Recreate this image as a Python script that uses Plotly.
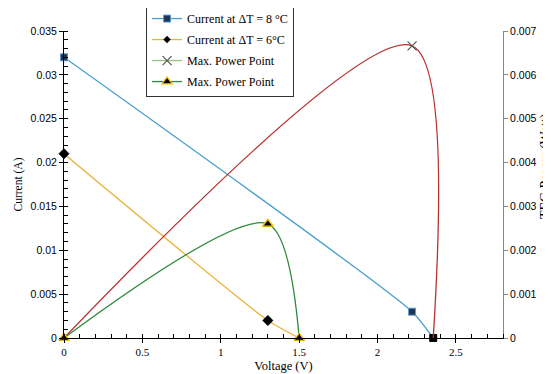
import plotly.graph_objects as go

# Data
v_8 = [0, 2.22, 2.355]          # Voltage (V), ΔT = 8 °C
i_8 = [0.032, 0.003, 0]         # Current (A), ΔT = 8 °C
p_8 = [0, 0.00666, 0]           # TEG Power (W), ΔT = 8 °C
v_6 = [0, 1.30, 1.50]           # Voltage (V), ΔT = 6 °C
i_6 = [0.021, 0.002, 0]         # Current (A), ΔT = 6 °C
p_6 = [0, 0.0026, 0]            # TEG Power (W), ΔT = 6 °C

x_ticks = [0, 0.5, 1, 1.5, 2, 2.5]

FONT = "Liberation Serif, Times New Roman, serif"
SANS = "Liberation Sans, Arial, sans-serif"
BLUE = "#4a9fd0"
ORANGE = "#e8b540"
RED = "#b8312f"
GREEN = "#2f8a3a"
SM_I = 0.55   # smoothing of current curves
SM_P = 0.85   # smoothing of power curves

fig = go.Figure()

# Power curve ΔT = 8 °C (red, no legend entry)
fig.add_trace(go.Scatter(
    x=v_8, y=p_8, yaxis="y2", mode="lines",
    line=dict(color=RED, width=1.3, shape="spline", smoothing=SM_P),
    showlegend=False, hoverinfo="skip"))

# Power curve ΔT = 6 °C (green, triangle markers)
fig.add_trace(go.Scatter(
    x=v_6, y=p_6, yaxis="y2", mode="lines+markers",
    name="Max. Power Point", legendrank=4, legendgroup="d",
    line=dict(color=GREEN, width=1.3, shape="spline", smoothing=SM_P),
    marker=dict(symbol="triangle-up", size=9, color="black",
                line=dict(color="#f2c000", width=1.2)),
    cliponaxis=False))

# Current ΔT = 8 °C
fig.add_trace(go.Scatter(
    x=v_8, y=i_8, mode="lines+markers",
    name="Current at ΔT = 8 °C", legendrank=1, legendgroup="a",
    line=dict(color=BLUE, width=1.3, shape="spline", smoothing=SM_I),
    marker=dict(symbol="square", size=7,
                color=["#1f3550", "#1f3550", "black"],
                line=dict(color=["#5b9bd5", "#5b9bd5", "black"], width=1)),
    cliponaxis=False))

# Current ΔT = 6 °C
fig.add_trace(go.Scatter(
    x=v_6, y=i_6, mode="lines+markers",
    name="Current at ΔT = 6°C", legendrank=2, legendgroup="b",
    line=dict(color=ORANGE, width=1.3, shape="spline", smoothing=SM_I),
    marker=dict(symbol="diamond", size=[8, 8, 0], color="black",
                opacity=1, line=dict(color="black", width=0.5)),
    cliponaxis=False))

# Max power point ΔT = 8 °C (×)
fig.add_trace(go.Scatter(
    x=[v_8[1]], y=[p_8[1]], yaxis="y2", mode="lines+markers",
    name="Max. Power Point", legendrank=3, legendgroup="c",
    line=dict(color="#9bc27e", width=1.3),
    marker=dict(symbol="x-thin", size=9, color="#555555",
                line=dict(color="#555555", width=1.2)),
    cliponaxis=False))

# Re-draw triangles on top
fig.add_trace(go.Scatter(
    x=v_6, y=p_6, yaxis="y2", mode="markers", showlegend=False,
    marker=dict(symbol="triangle-up", size=9, color="black",
                line=dict(color="#f2c000", width=1.2)),
    cliponaxis=False, hoverinfo="skip"))

x_font = dict(family=FONT, size=11, color="black")
y_font = dict(family=SANS, size=10.5, color="black")

fig.update_layout(
    width=543, height=366,
    margin=dict(l=56, r=48, t=23, b=36, autoexpand=False),
    paper_bgcolor="white", plot_bgcolor="white",
    font=dict(family=FONT, size=11, color="black"),
    xaxis=dict(
        range=[0, 2.8], tickvals=x_ticks, ticktext=[str(t) for t in x_ticks],
        showgrid=False, zeroline=False, showline=True, linecolor="black",
        linewidth=1, ticks="outside", ticklen=4, tickcolor="black",
        minor=dict(dtick=0.1, ticks="inside", ticklen=4, tickcolor="black"),
        tickfont=x_font,
        title=dict(text="Voltage (V)",
                   font=dict(family=FONT, size=12.5, color="black"),
                   standoff=4)),
    yaxis=dict(
        range=[0, 0.035], dtick=0.005, showgrid=False, zeroline=False,
        showline=True, linecolor="black", linewidth=1,
        ticks="outside", ticklen=4, tickcolor="black",
        minor=dict(dtick=0.001, ticks="inside", ticklen=4, tickcolor="black"),
        tickfont=y_font,
        title=dict(text="Current (A)",
                   font=dict(family=FONT, size=11.5, color="black"),
                   standoff=5)),
    yaxis2=dict(
        range=[0, 0.007], dtick=0.001, overlaying="y", side="right",
        showgrid=False, zeroline=False, showline=True, linecolor="#888888",
        linewidth=1, ticks="outside", ticklen=4, tickcolor="#888888",
        tickfont=y_font),
    annotations=[dict(
        text="TEG Power (Watt)", textangle=-90, showarrow=False,
        xref="paper", yref="paper", x=1.098, y=0.56,
        xanchor="center", yanchor="middle",
        font=dict(family=FONT, size=14, color="black"))],
    legend=dict(
        x=0.187, y=1.091, xanchor="left", yanchor="top",
        bgcolor="white", bordercolor="#333333", borderwidth=1,
        font=dict(family=FONT, size=12, color="black"),
        traceorder="grouped", tracegroupgap=2),
)

fig.write_html("out.html")
